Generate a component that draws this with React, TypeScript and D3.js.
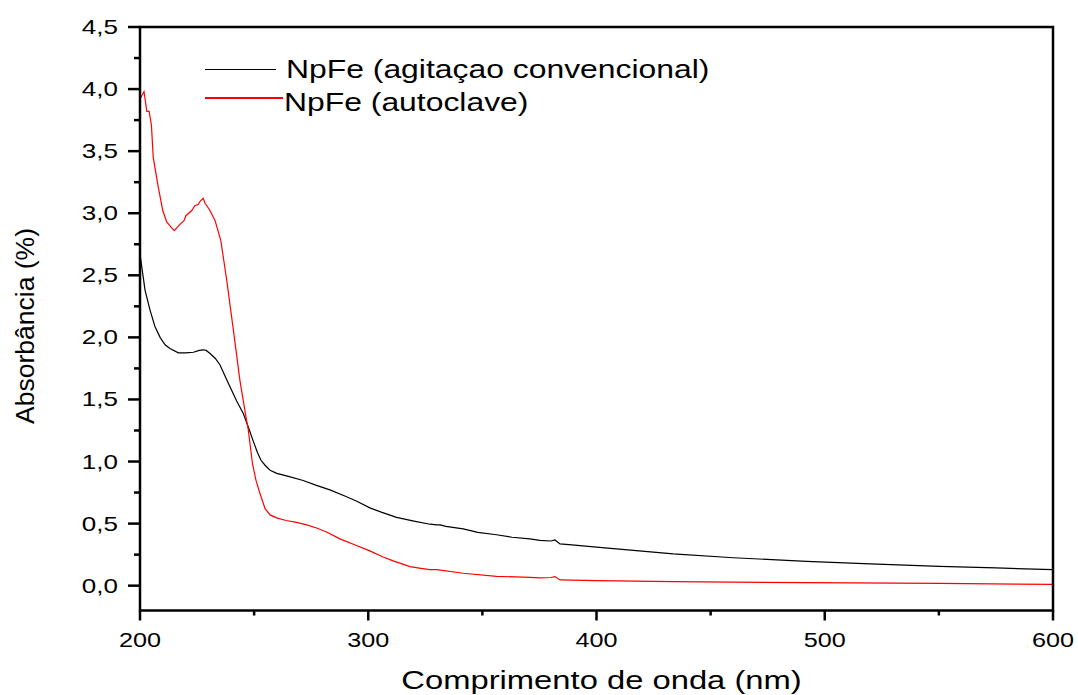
import React from "react";
import * as d3 from "d3";

// NpFe (agitaçao convencional) - black
const agitWl = [200, 202.2, 204.4, 206.5, 208.8, 211, 213.1, 216.8, 220, 223.4, 226, 227.7, 229, 230.7, 233, 235, 238.7, 242.3, 245.3, 247.4, 249.5, 251.5, 253, 254.8, 257, 259.9, 265, 271.5, 277, 283.2, 290, 295, 300.7, 306, 312.4, 320, 327, 330, 331.5, 334, 341.6, 348, 356.2, 363, 370.8, 375.2, 380, 381.8, 384, 388, 400, 433.6, 460, 492, 520, 550.4, 575, 600];
const agitAbs = [2.67, 2.38, 2.22, 2.09, 2.0, 1.94, 1.91, 1.875, 1.875, 1.88, 1.895, 1.9, 1.895, 1.87, 1.83, 1.78, 1.63, 1.49, 1.385, 1.28, 1.17, 1.07, 1.01, 0.97, 0.93, 0.905, 0.88, 0.847, 0.81, 0.772, 0.72, 0.68, 0.627, 0.59, 0.55, 0.52, 0.495, 0.49, 0.49, 0.477, 0.457, 0.43, 0.41, 0.39, 0.377, 0.365, 0.36, 0.368, 0.336, 0.33, 0.31, 0.256, 0.225, 0.196, 0.175, 0.156, 0.143, 0.129];

// NpFe (autoclave) - red
const autoWl = [200, 201.75, 203, 204, 205, 205.8, 208, 210, 211.7, 213.5, 215, 217.5, 219.3, 220.1, 222.6, 224, 225.5, 226.5, 227.7, 228.5, 230.4, 232.9, 235.4, 238, 240.9, 243.8, 246.7, 247.4, 249.3, 250.8, 252.6, 254.8, 257, 259.9, 264, 268.6, 273, 277.4, 282, 287.6, 294, 300.7, 306, 310.9, 318.3, 323, 327, 330, 341.6, 356.2, 370.8, 375.2, 380, 381.8, 384, 400, 433.6, 492, 550.4, 600];
const autoAbs = [3.92, 3.98, 3.82, 3.82, 3.71, 3.45, 3.21, 3.02, 2.93, 2.89, 2.86, 2.91, 2.94, 2.98, 3.02, 3.06, 3.07, 3.1, 3.12, 3.08, 3.03, 2.94, 2.78, 2.46, 2.06, 1.65, 1.33, 1.26, 0.98, 0.85, 0.74, 0.62, 0.57, 0.546, 0.525, 0.51, 0.49, 0.465, 0.43, 0.377, 0.33, 0.28, 0.235, 0.2, 0.153, 0.14, 0.13, 0.13, 0.1, 0.075, 0.067, 0.063, 0.066, 0.073, 0.046, 0.04, 0.032, 0.024, 0.019, 0.01];

const xMajor = [200, 300, 400, 500, 600];
const xMinor = [250, 350, 450, 550];
const yMajor = [0, 0.5, 1, 1.5, 2, 2.5, 3, 3.5, 4, 4.5];
const yMinor = [0.25, 0.75, 1.25, 1.75, 2.25, 2.75, 3.25, 3.75, 4.25];

const seriesNames = ["NpFe (agitaçao convencional)", "NpFe (autoclave)"];
const xTitle = "Comprimento de onda (nm)";
const yTitle = "Absorbância (%)";

const W = 1078;
const H = 695;
const left = 140;
const right = 1053;
const top = 27;
const bottom = 610.5;
const FONT = "'Liberation Sans', Arial, sans-serif";

function Txt({ x, y, sx, size, anchor, children, rotate }: any) {
  const t = `translate(${x},${y})${rotate ? ` rotate(${rotate})` : ""} scale(${sx},1)`;
  return (
    <text transform={t} fontSize={size} textAnchor={anchor || "start"} fontFamily={FONT} fill="#000">
      {children}
    </text>
  );
}

export default function App() {
  const x = d3.scaleLinear().domain([200, 600]).range([left, right]);
  const y = d3.scaleLinear().domain([-0.2, 4.5]).range([bottom, top]);
  const line = d3
    .line<[number, number]>()
    .x((d) => x(d[0]))
    .y((d) => y(d[1]));
  const agit = agitWl.map((w, i) => [w, agitAbs[i]] as [number, number]);
  const auto = autoWl.map((w, i) => [w, autoAbs[i]] as [number, number]);
  const fmt = (v: number) => d3.format(".1f")(v).replace(".", ",");

  return (
    <svg width={W} height={H} style={{ position: "absolute", left: 0, top: 0, display: "block" }}>
      <rect width={W} height={H} fill="#fff" />
      <path d={line(agit) || ""} fill="none" stroke="#000" strokeWidth={1.2} />
      <path d={line(auto) || ""} fill="none" stroke="#ff0000" strokeWidth={1.2} />

      {/* frame */}
      <rect x={left} y={top} width={right - left} height={bottom - top} fill="none" stroke="#000" strokeWidth={2.5} />

      {/* x ticks */}
      {xMajor.map((v) => (
        <g key={"xm" + v}>
          <line x1={x(v)} x2={x(v)} y1={bottom} y2={bottom + 10} stroke="#000" strokeWidth={2.5} />
          <Txt x={x(v)} y={647} sx={1.2} size={21} anchor="middle">{v}</Txt>
        </g>
      ))}
      {xMinor.map((v) => (
        <line key={"xn" + v} x1={x(v)} x2={x(v)} y1={bottom} y2={bottom + 5} stroke="#000" strokeWidth={2.5} />
      ))}

      {/* y ticks */}
      {yMajor.map((v) => (
        <g key={"ym" + v}>
          <line x1={left - 12} x2={left} y1={y(v)} y2={y(v)} stroke="#000" strokeWidth={2.5} />
          <Txt x={118} y={y(v) + 7} sx={1.3} size={20} anchor="end">{fmt(v)}</Txt>
        </g>
      ))}
      {yMinor.map((v) => (
        <line key={"yn" + v} x1={left - 6} x2={left} y1={y(v)} y2={y(v)} stroke="#000" strokeWidth={2.5} />
      ))}

      {/* axis titles */}
      <Txt x={(left + right) / 2 + 5} y={689} sx={1.26} size={26} anchor="middle">{xTitle}</Txt>
      <Txt x={34} y={326} sx={1} size={26.5} anchor="middle" rotate={-90}>{yTitle}</Txt>

      {/* legend */}
      <line x1={205} x2={276} y1={69.5} y2={69.5} stroke="#000" strokeWidth={1} />
      <Txt x={286} y={78} sx={1.25} size={25.5}>{seriesNames[0]}</Txt>
      <line x1={205} x2={283} y1={98} y2={98} stroke="#ff0000" strokeWidth={2} />
      <Txt x={284} y={111} sx={1.25} size={25.5}>{seriesNames[1]}</Txt>
    </svg>
  );
}
